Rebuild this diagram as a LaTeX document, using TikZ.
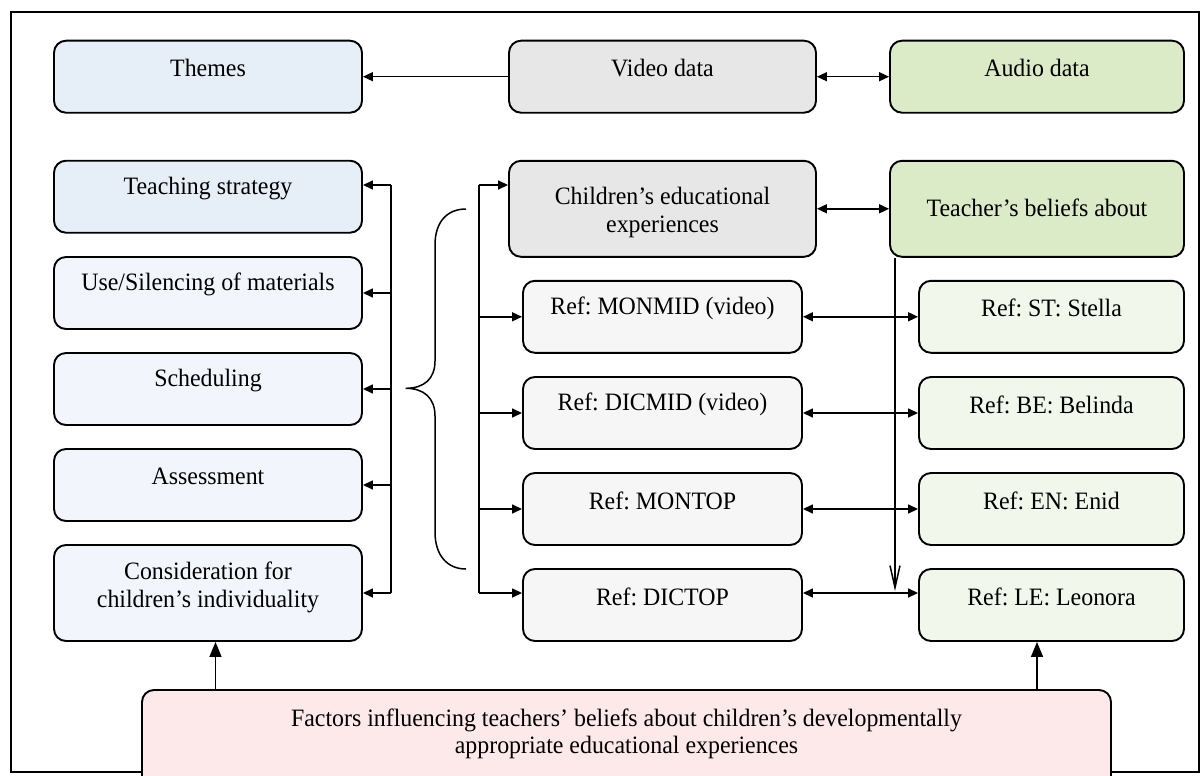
\documentclass[tikz,border=0pt]{standalone}
\usepackage{fontspec}
\setmainfont[FakeStretch=0.955]{Liberation Serif}
\usetikzlibrary{arrows.meta}
\definecolor{blueA}{RGB}{230,238,248}
\definecolor{blueB}{RGB}{242,246,252}
\definecolor{greyA}{RGB}{231,231,231}
\definecolor{greyB}{RGB}{246,246,246}
\definecolor{greenA}{RGB}{219,234,199}
\definecolor{greenB}{RGB}{241,247,234}
\definecolor{pinkA}{RGB}{253,233,234}
\frenchspacing
\tikzset{
  box/.style={draw, line width=1.9pt, rounded corners=12pt, inner sep=0pt},
  lbl/.style={font=\fontsize{25}{28}\selectfont, align=center, inner sep=0pt},
  conn/.style={line width=1.5pt},
  arr/.style={conn, -{Triangle[length=10pt,width=9pt]}},
  darr/.style={conn, {Triangle[length=10pt,width=9pt]}-{Triangle[length=10pt,width=9pt]}},
  bigarr/.style={conn, -{Triangle[length=15pt,width=12pt]}},
  openarr/.style={conn, -{Straight Barb[length=22pt,width=10pt]}},
  framestyle/.style={line width=1.8pt},
}
\begin{document}
\begin{tikzpicture}[x=1pt, y=-1pt]
\useasboundingbox (0,0) rectangle (1203,776);
\clip (0,0) rectangle (1203,776);
\fill[white] (0,0) rectangle (1203,776);
\draw[framestyle] (10.7,12) rectangle (1199,772);

% top row
\node[box, fill=blueA, minimum width=308, minimum height=72,
  label={[lbl, yshift=8.5pt]center:Themes}] (themes) at (208,76.7) {};
\node[box, fill=greyA, minimum width=307, minimum height=72,
  label={[lbl, yshift=8.5pt]center:Video data}] (video) at (662.5,76.7) {};
\node[box, fill=greenA, minimum width=294, minimum height=72,
  label={[lbl, yshift=8.5pt]center:Audio data}] (audio) at (1037,76.7) {};

% left column
\node[box, fill=blueA, minimum width=308, minimum height=72,
  label={[lbl, yshift=8.5pt]center:Teaching strategy}] (teach) at (208,196.7) {};
\node[box, fill=blueB, minimum width=308, minimum height=72,
  label={[lbl, yshift=8.5pt]center:Use/Silencing of materials}] (use) at (208,293) {};
\node[box, fill=blueB, minimum width=308, minimum height=72,
  label={[lbl, yshift=8.5pt]center:Scheduling}] (sched) at (208,389) {};
\node[box, fill=blueB, minimum width=308, minimum height=72,
  label={[lbl, yshift=8.5pt]center:Assessment}] (assess) at (208,485) {};
\node[box, fill=blueB, minimum width=308, minimum height=96,
  label={[lbl, yshift=6pt]center:Consideration for\\children’s individuality}] (consid) at (208,593) {};

% middle column
\node[box, fill=greyA, minimum width=307, minimum height=96,
  label={[lbl, yshift=-3.5pt]center:Children’s educational\\experiences}] (child) at (662.5,208.8) {};
\node[box, fill=greyB, minimum width=279, minimum height=72,
  label={[lbl, yshift=8.5pt]center:Ref: MONMID (video)}] (monmid) at (662.5,316.8) {};
\node[box, fill=greyB, minimum width=279, minimum height=72,
  label={[lbl, yshift=8.5pt]center:Ref: DICMID (video)}] (dicmid) at (662.5,413) {};
\node[box, fill=greyB, minimum width=279, minimum height=72,
  label={[lbl, yshift=8.5pt]center:Ref: MONTOP}] (montop) at (662.5,509) {};
\node[box, fill=greyB, minimum width=279, minimum height=72,
  label={[lbl, yshift=8.5pt]center:Ref: DICTOP}] (dictop) at (662.5,605) {};

% right column
\node[box, fill=greenA, minimum width=294, minimum height=96,
  label={[lbl, yshift=0.5pt]center:Teacher’s beliefs about}] (teacher) at (1037,208.8) {};
\node[box, fill=greenB, minimum width=265, minimum height=72,
  label={[lbl, yshift=8.5pt]center:Ref: ST: Stella}] (stella) at (1051.5,316.8) {};
\node[box, fill=greenB, minimum width=265, minimum height=72,
  label={[lbl, yshift=8.5pt]center:Ref: BE: Belinda}] (belinda) at (1051.5,413) {};
\node[box, fill=greenB, minimum width=265, minimum height=72,
  label={[lbl, yshift=8.5pt]center:Ref: EN: Enid}] (enid) at (1051.5,509) {};
\node[box, fill=greenB, minimum width=265, minimum height=72,
  label={[lbl, yshift=8.5pt]center:Ref: LE: Leonora}] (leonora) at (1051.5,605) {};

% bottom box
\node[box, fill=pinkA, minimum width=969, minimum height=130,
  label={[lbl, font=\fontsize{25}{27}\selectfont, yshift=21.5pt]center:Factors influencing teachers’ beliefs about children’s developmentally\\appropriate educational experiences}] (factors) at (626.5,755) {};

% coordinates for trunks
\coordinate (lt) at (391,185);
\coordinate (lb) at (391,593);
\coordinate (rt) at (479,185);
\coordinate (rb) at (479,593);
\coordinate (vb) at (895,591);
\coordinate (f1) at (215.5,690);
\coordinate (f2) at (1037,690);

% top connectors
\draw[arr] (video.west) -- (themes.east);
\draw[darr] (video.east) -- (audio.west);

% left trunk
\draw[conn] (lt) -- (lb);
\draw[arr] (lt) -- (teach.east |- lt);
\draw[arr] (lb |- use.east) -- (use.east);
\draw[arr] (lb |- sched.east) -- (sched.east);
\draw[arr] (lb |- assess.east) -- (assess.east);
\draw[arr] (lb) -- (consid.east |- lb);

% brace
\draw[conn] (466,209) .. controls (447,209) and (435,222) .. (435,245)
  -- (435,361) .. controls (435,379) and (424,388.3) .. (405.7,388.3)
  .. controls (424,388.3) and (435,398) .. (435,416)
  -- (435,532) .. controls (435,555) and (447,569) .. (466,569);

% right trunk
\draw[conn] (rt) -- (rb);
\draw[arr] (rt) -- (child.west |- rt);
\draw[arr] (rb |- monmid.west) -- (monmid.west);
\draw[arr] (rb |- dicmid.west) -- (dicmid.west);
\draw[arr] (rb |- montop.west) -- (montop.west);
\draw[arr] (rb) -- (dictop.west |- rb);

% horizontal links
\draw[darr] (child.east) -- (teacher.west);
\draw[darr] (monmid.east) -- (stella.west);
\draw[darr] (dicmid.east) -- (belinda.west);
\draw[darr] (montop.east) -- (enid.west);
\draw[darr] (dictop.east |- rb) -- (leonora.west |- rb);

% vertical line from teacher's beliefs
\draw[openarr] (teacher.south -| vb) -- (vb);

% factors arrows
\draw[bigarr] (f1) -- (consid.south -| f1);
\draw[bigarr] (f2) -- (leonora.south -| f2);
\end{tikzpicture}
\end{document}
